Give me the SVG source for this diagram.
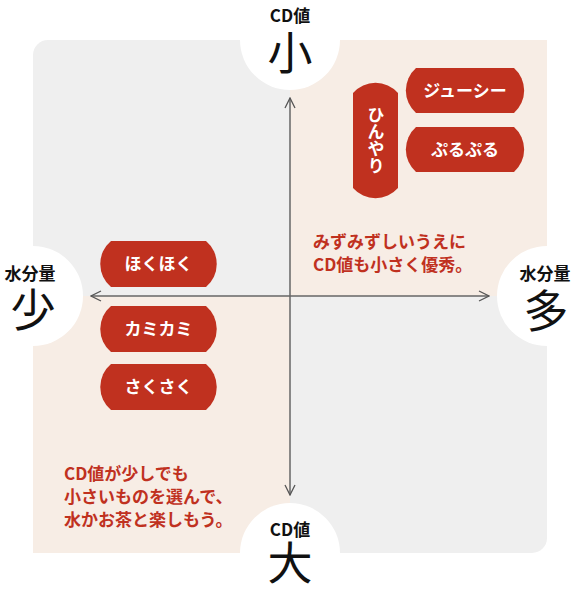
<svg xmlns="http://www.w3.org/2000/svg" width="580" height="594" viewBox="0 0 580 594">
<defs>
<style>
.gray{fill:#efefef}
.beige{fill:#f7ede5}
.circ{fill:#ffffff}
.pill{fill:#c0311f}
.pt{fill:#ffffff;font-family:"Noto Sans CJK JP","Noto Sans",sans-serif;font-weight:bold;font-size:17px;text-anchor:middle}
.lbl{fill:#111;font-family:"Noto Sans CJK JP","Noto Sans",sans-serif;font-weight:bold;font-size:17px;text-anchor:middle}
.big{fill:#111;font-family:"Noto Sans CJK JP","Noto Sans",sans-serif;font-size:45px;text-anchor:middle}
.note{fill:#c0311f;font-family:"Noto Sans CJK JP","Noto Sans",sans-serif;font-weight:bold;font-size:17px}
.axis{stroke:#666;stroke-width:1.5;fill:none}
</style>
<marker id="arr" viewBox="0 0 12 12" refX="11" refY="6" markerWidth="12" markerHeight="12" markerUnits="userSpaceOnUse" orient="auto">
<path d="M1,1 L11,6 L1,11" fill="none" stroke="#555" stroke-width="1.3"/>
</marker>
</defs>
<g id="background">
<path class="gray" d="M33,296 V55 A15,15 0 0 1 48,40 H290 V296 Z"/>
<rect class="beige" x="290" y="40" width="257" height="256"/>
<rect class="beige" x="33" y="296" width="257" height="257"/>
<path class="gray" d="M290,296 H547 V538 A15,15 0 0 1 532,553 H290 Z"/>
</g>
<g id="connectors">
<line class="axis" x1="290" y1="296" x2="290" y2="98" marker-end="url(#arr)"/>
<line class="axis" x1="290" y1="296" x2="290" y2="495" marker-end="url(#arr)"/>
<line class="axis" x1="290" y1="296" x2="91" y2="296" marker-end="url(#arr)"/>
<line class="axis" x1="290" y1="296" x2="489" y2="296" marker-end="url(#arr)"/>
</g>
<g id="top-label">
<circle class="circ" cx="290" cy="40" r="50"/>
<text class="lbl" x="290" y="22">CD値</text>
<text class="big" x="290" y="70">小</text>
</g>
<g id="bottom-label">
<circle class="circ" cx="290" cy="553" r="50"/>
<text class="lbl" x="290" y="536">CD値</text>
<text class="big" x="290" y="580">大</text>
</g>
<g id="left-label">
<circle class="circ" cx="33" cy="296" r="50"/>
<text class="lbl" x="30" y="280">水分量</text>
<text class="big" x="33" y="327">少</text>
</g>
<g id="right-label">
<circle class="circ" cx="547" cy="296" r="50"/>
<text class="lbl" x="545" y="280">水分量</text>
<text class="big" x="546" y="328">多</text>
</g>
<g id="juicy">
<path class="pill" d="M416,68 H514 A30,30 0 0 1 514,113 H416 A30,30 0 0 1 416,68 Z"/>
<text class="pt" x="465" y="97">ジューシー</text>
</g>
<g id="purupuru">
<path class="pill" d="M416,127 H514 A30,30 0 0 1 514,172 H416 A30,30 0 0 1 416,127 Z"/>
<text class="pt" x="465" y="156">ぷるぷる</text>
</g>
<g id="hinyari">
<path class="pill" d="M353,93 A30,30 0 0 1 398,93 V188 A30,30 0 0 1 353,188 Z"/>
<text class="pt" x="376" y="140" writing-mode="vertical-rl" style="text-anchor:middle">ひんやり</text>
</g>
<g id="hokuhoku">
<path class="pill" d="M111,241 H206 A30,30 0 0 1 206,287 H111 A30,30 0 0 1 111,241 Z"/>
<text class="pt" x="158.5" y="270">ほくほく</text>
</g>
<g id="kamikami">
<path class="pill" d="M111,306 H206 A30,30 0 0 1 206,352 H111 A30,30 0 0 1 111,306 Z"/>
<text class="pt" x="158.5" y="335">カミカミ</text>
</g>
<g id="sakusaku">
<path class="pill" d="M111,364 H206 A30,30 0 0 1 206,410 H111 A30,30 0 0 1 111,364 Z"/>
<text class="pt" x="158.5" y="393">さくさく</text>
</g>
<g id="note-top-right">
<text class="note" x="313" y="248">みずみずしいうえに</text>
<text class="note" x="313" y="271">CD値も小さく優秀。</text>
</g>
<g id="note-bottom-left">
<text class="note" x="64" y="480">CD値が少しでも</text>
<text class="note" x="64" y="503">小さいものを選んで、</text>
<text class="note" x="64" y="526">水かお茶と楽しもう。</text>
</g>
</svg>
